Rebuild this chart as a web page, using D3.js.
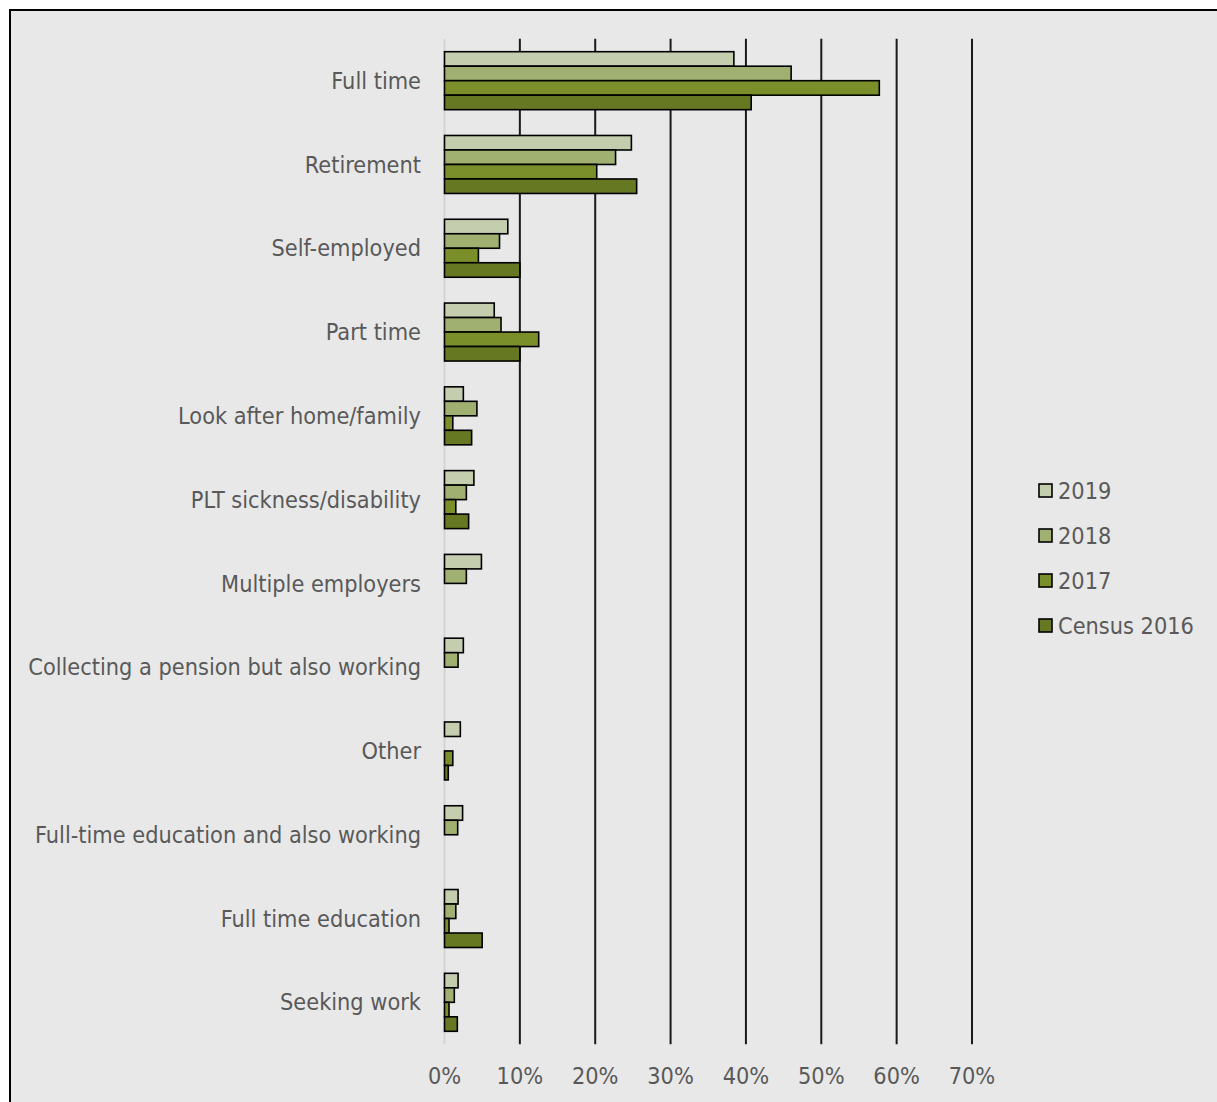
<!DOCTYPE html>
<html>
<head>
<meta charset="utf-8">
<script src="https://cdn.jsdelivr.net/npm/d3@7"></script>
<style>
  html, body { margin: 0; padding: 0; background: #ffffff; }
  svg { display: block; }
</style>
</head>
<body>
<svg id="chart" width="1217" height="1102"></svg>
<script>
const categories = [
  "Full time",
  "Retirement",
  "Self-employed",
  "Part time",
  "Look after home/family",
  "PLT sickness/disability",
  "Multiple employers",
  "Collecting a pension but also working",
  "Other",
  "Full-time education and also working",
  "Full time education",
  "Seeking work"
];
const seriesNames = ["2019", "2018", "2017", "Census 2016"];
const values2019 = [38.4, 24.8, 8.4, 6.6, 2.5, 3.9, 4.9, 2.5, 2.1, 2.4, 1.8, 1.8];
const values2018 = [46.0, 22.7, 7.3, 7.5, 4.3, 2.9, 2.9, 1.8, null, 1.75, 1.5, 1.3];
const values2017 = [57.7, 20.2, 4.5, 12.5, 1.1, 1.5, null, null, 1.1, null, 0.6, 0.6];
const valuesCensus2016 = [40.7, 25.5, 10.0, 10.0, 3.6, 3.2, null, null, 0.5, null, 5.0, 1.7];
const tickValues = [0, 10, 20, 30, 40, 50, 60, 70];
const tickLabels = ["0%", "10%", "20%", "30%", "40%", "50%", "60%", "70%"];

const seriesValues = [values2019, values2018, values2017, valuesCensus2016];
const colors = ["#c4ceae", "#9fb070", "#7a8f2a", "#677822"];
const textColor = "#595959";
const FONT = "'DejaVu Sans Condensed', 'DejaVu Sans', sans-serif";

const svg = d3.select("#chart");

// frame
svg.append("rect")
  .attr("x", 10).attr("y", 10)
  .attr("width", 1230).attr("height", 1120)
  .attr("fill", "#e8e8e8")
  .attr("stroke", "#000").attr("stroke-width", 2);

// font size: fit the longest label width
const probe = svg.append("text").attr("font-family", FONT).attr("font-size", 20)
  .text("Collecting a pension but also working");
const w20 = probe.node().getComputedTextLength();
probe.remove();
const fs = Math.min(24, 20 * 393 / w20);

const x = d3.scaleLinear().domain([0, 70]).range([444.5, 972]);
const y = d3.scaleBand().domain(categories).range([38.8, 1044.2])
  .paddingInner(0.308).paddingOuter(0.154);
const ySub = d3.scaleBand().domain(seriesNames).range([0, y.bandwidth()]);

// zero line
svg.append("line")
  .attr("x1", x(0)).attr("x2", x(0))
  .attr("y1", 38.8).attr("y2", 1044.2)
  .attr("stroke", "#d4d4d4").attr("stroke-width", 2);

// grid lines
svg.append("g").selectAll("line")
  .data(tickValues.filter(d => d > 0))
  .join("line")
  .attr("x1", d => x(d)).attr("x2", d => x(d))
  .attr("y1", 38.8).attr("y2", 1044.2)
  .attr("stroke", "#1a1a1a").attr("stroke-width", 2);

// bars
const data = [];
categories.forEach((c, i) => {
  seriesNames.forEach((s, j) => {
    const v = seriesValues[j][i];
    if (v != null) data.push({ c, s, v, j });
  });
});
svg.append("g").selectAll("rect")
  .data(data)
  .join("rect")
  .attr("x", x(0))
  .attr("y", d => y(d.c) + ySub(d.s))
  .attr("width", d => x(d.v) - x(0))
  .attr("height", ySub.bandwidth())
  .attr("fill", d => colors[d.j])
  .attr("stroke", "#000").attr("stroke-width", 1.6);

// category labels
svg.append("g").selectAll("text")
  .data(categories)
  .join("text")
  .attr("x", 421)
  .attr("y", d => y(d) + y.bandwidth() / 2)
  .attr("dy", "0.35em")
  .attr("text-anchor", "end")
  .attr("font-family", FONT).attr("font-size", fs)
  .attr("fill", textColor)
  .text(d => d);

// tick labels
svg.append("g").selectAll("text")
  .data(tickValues)
  .join("text")
  .attr("x", d => x(d))
  .attr("y", 1076)
  .attr("dy", "0.35em")
  .attr("text-anchor", "middle")
  .attr("font-family", FONT).attr("font-size", fs)
  .attr("fill", textColor)
  .text((d, i) => tickLabels[i]);

// legend
const legend = svg.append("g").selectAll("g")
  .data(seriesNames)
  .join("g")
  .attr("transform", (d, i) => `translate(1039, ${491 + i * 45})`);
legend.append("rect")
  .attr("x", 0).attr("y", -7)
  .attr("width", 13).attr("height", 13)
  .attr("fill", (d, i) => colors[i])
  .attr("stroke", "#000").attr("stroke-width", 1.6);
legend.append("text")
  .attr("x", 19).attr("y", 0)
  .attr("dy", "0.35em")
  .attr("font-family", FONT).attr("font-size", fs)
  .attr("fill", textColor)
  .text(d => d);
</script>
</body>
</html>
